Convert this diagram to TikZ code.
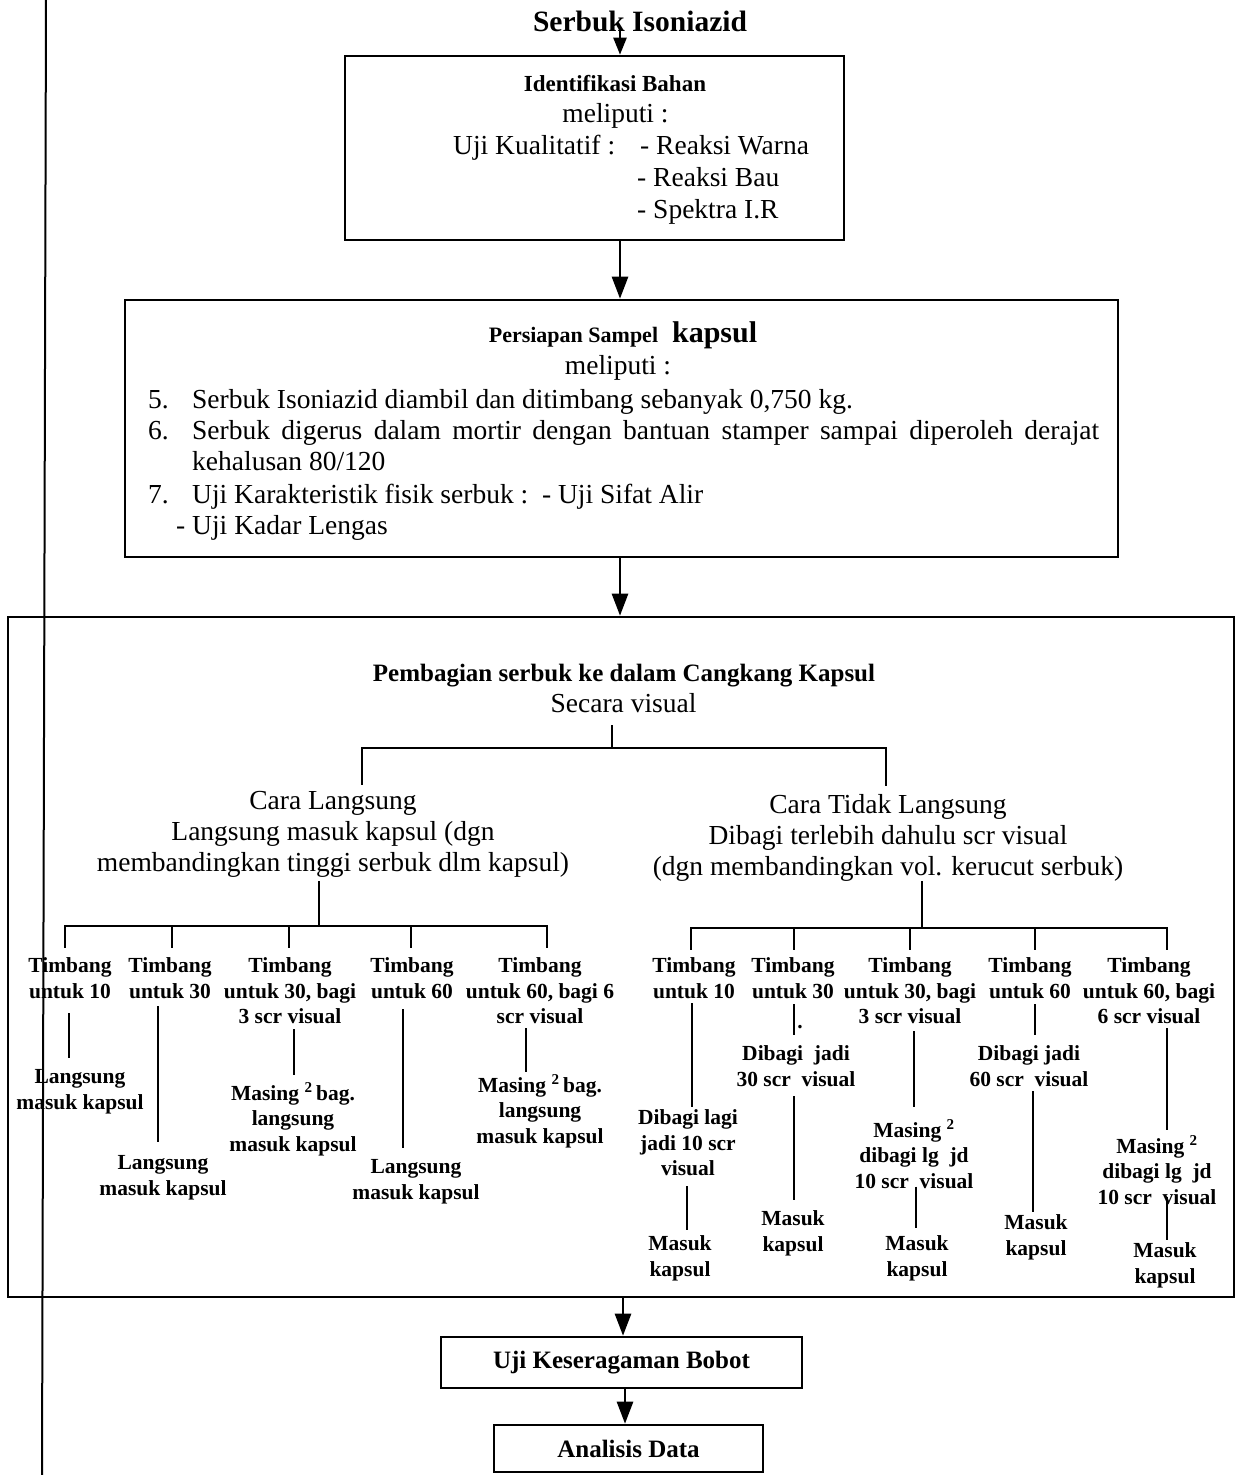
\documentclass[tikz,border=0pt]{standalone}
\usepackage{fontspec}
\setmainfont{Liberation Serif}
\usetikzlibrary{arrows.meta,calc}
\newcommand\fmain{\fontsize{27.5}{31}\selectfont}
\newcommand\fbold[1]{\fontsize{#1}{#1}\selectfont\bfseries}
\newcommand\ftree{\fontsize{21.5}{25.5}\selectfont\bfseries}
\newcommand\vl[5]{\draw[tl,shorten <=#4pt,shorten >=#5pt] ($(#1.south)+(#3,0)$) coordinate (vtmp) -- (vtmp |- #2.north);}
\begin{document}
\begin{tikzpicture}[x=1pt,y=-1pt,
  boxn/.style={draw, line width=2.6pt, inner sep=0pt},
  arr/.style={line width=2.6pt, -{Triangle[width=16pt,length=22pt]}},
  tl/.style={line width=2.2pt},
  txt/.style={inner sep=0pt, font=\fmain},
  lbl/.style={inner sep=0pt, align=center, font=\ftree, anchor=north}]
\useasboundingbox (0,0) rectangle (1240,1475);
\fill[white] (0,0) rectangle (1240,1475);

% stray left line
\draw[line width=2pt] (46,0) -- (42,1475);

% boxes
\node[boxn, minimum width=499pt, minimum height=184pt] (b1) at (594.5,148) {};
\node[boxn, minimum width=993pt, minimum height=257pt] (b2) at (621.5,428.5) {};
\node[boxn, minimum width=1226pt, minimum height=680pt] (b3) at (621,957) {};
\node[boxn, minimum width=361pt, minimum height=51pt, font=\fbold{25}] (b4) at (621.5,1362.5) {Uji Keseragaman Bobot};
\node[boxn, minimum width=269pt, minimum height=47pt, font=\fbold{25}] (b5) at (628.5,1448.5) {Analisis Data};

% title
\node[txt, font=\fbold{29.5}, anchor=base] (title) at (640,31) {Serbuk Isoniazid};

% box 1 text
\node[txt, font=\fbold{23}, anchor=base] (b1t) at (615,91) {Identifikasi Bahan};
\node[txt, anchor=base] (b1m) at (615.5,122) {meliputi :};
\node[txt, anchor=base west] (b1u) at (453,154) {Uji Kualitatif :};
\node[txt, anchor=base west] (b1r1) at (640,154) {- Reaksi Warna};
\node[txt, anchor=base west] (b1r2) at (637,186) {- Reaksi Bau};
\node[txt, anchor=base west] (b1r3) at (637,218) {- Spektra I.R};

% box 2 text
\node[txt, anchor=base] (b2t) at (623,342) {{\fbold{22}Persiapan Sampel}\hspace{14pt}{\fbold{30}kapsul}};
\node[txt, anchor=base] (b2m) at (618,374) {meliputi :};
\node[txt, anchor=base west] (n5) at (148,408) {5.};
\node[txt, anchor=base west] (i5) at (192,408) {Serbuk Isoniazid diambil dan ditimbang sebanyak 0,750 kg.};
\node[txt, anchor=base west] (n6) at (148,439) {6.};
\node[txt, anchor=base west] (i6) at (192,439) {\makebox[907pt][s]{Serbuk digerus dalam mortir dengan bantuan stamper sampai diperoleh derajat}};
\node[txt, anchor=base west] (i6b) at (192,470) {kehalusan 80/120};
\node[txt, anchor=base west] (n7) at (148,503) {7.};
\node[txt, anchor=base west] (i7) at (192,503) {Uji Karakteristik fisik serbuk :\ \ - Uji Sifat Alir};
\node[txt, anchor=base west] (i7b) at (176,534) {- Uji Kadar Lengas};

% box 3 text
\node[txt, font=\fbold{25}, anchor=base] (pemb) at (624,681) {Pembagian serbuk ke dalam Cangkang Kapsul};
\node[txt, anchor=base] (sec) at (623.5,712) {Secara visual};
\node[txt, align=center, anchor=north] (cL) at (333,791.5) {Cara Langsung\\Langsung masuk kapsul (dgn\\membandingkan tinggi serbuk dlm kapsul)};
\node[txt, align=center, anchor=north] (cR) at (888,794) {Cara Tidak Langsung\\Dibagi terlebih dahulu scr visual\\(dgn membandingkan vol. kerucut serbuk)};

% left tree labels
\node[lbl] (L1) at (70,957.5) {Timbang\\untuk 10};
\node[lbl] (L2) at (170,957.5) {Timbang\\untuk 30};
\node[lbl] (L3) at (290,957.5) {Timbang\\untuk 30, bagi\\3 scr visual};
\node[lbl] (L4) at (412,957.5) {Timbang\\untuk 60};
\node[lbl] (L5) at (540,957.5) {Timbang\\untuk 60, bagi 6\\scr visual};
\node[lbl] (L1s) at (80,1069.5) {Langsung\\masuk kapsul};
\node[lbl] (L2s) at (163,1155.5) {Langsung\\masuk kapsul};
\node[lbl] (L3s) at (293,1082.5) {Masing \textsuperscript{2}\,bag.\\langsung\\masuk kapsul};
\node[lbl] (L4s) at (416,1159.5) {Langsung\\masuk kapsul};
\node[lbl] (L5s) at (540,1074.5) {Masing \textsuperscript{2}\,bag.\\langsung\\masuk kapsul};

% right tree labels
\node[lbl] (R1) at (694,957.5) {Timbang\\untuk 10};
\node[lbl] (R2) at (793,957.5) {Timbang\\untuk 30};
\node[lbl] (R3) at (910,957.5) {Timbang\\untuk 30, bagi\\3 scr visual};
\node[lbl] (R4) at (1030,957.5) {Timbang\\untuk 60};
\node[lbl] (R5) at (1149,957.5) {Timbang\\untuk 60, bagi\\6 scr visual};
\node[lbl] (R1a) at (688,1109.5) {Dibagi lagi\\jadi 10 scr\\visual};
\node[lbl] (R1b) at (680,1235.5) {Masuk\\kapsul};
\node[lbl] (R2a) at (796,1045.5) {Dibagi\ \ jadi\\30 scr\ \ visual};
\node[lbl] (R2b) at (793,1210.5) {Masuk\\kapsul};
\node[lbl] (R3a) at (914,1119.5) {Masing \textsuperscript{2}\\dibagi lg\ \ jd\\10 scr\ \ visual};
\node[lbl] (R3b) at (917,1235.5) {Masuk\\kapsul};
\node[lbl] (R4a) at (1029,1045.5) {Dibagi jadi\\60 scr\ \ visual};
\node[lbl] (R4b) at (1036,1214.5) {Masuk\\kapsul};
\node[lbl] (R5a) at (1157,1135.5) {Masing \textsuperscript{2}\\dibagi lg\ \ jd\\10 scr\ \ visual};
\node[lbl] (R5b) at (1165,1242.5) {Masuk\\kapsul};
\node[inner sep=0pt, font=\ftree] (dot) at (800,1027) {.};

% main arrows
\coordinate (sp) at (620,0);
\coordinate (sp2) at (623,0);
\coordinate (sp3) at (625,0);
\draw[line width=2.4pt, -{Triangle[width=13pt,length=17pt]}, shorten <=-4pt] (title.south -| sp) -- (b1.north -| sp);
\draw[arr] (b1.south -| sp) -- (b2.north -| sp);
\draw[arr] (b2.south -| sp) -- (b3.north -| sp);
\draw[arr] (b3.south -| sp2) -- (b4.north -| sp2);
\draw[arr] (b4.south -| sp3) -- (b5.north -| sp3);

% upper tree
\coordinate (pj) at (612,748);
\draw[tl, shorten <=13pt] (pj |- sec.south) -- (pj);
\draw[tl, shorten >=6.5pt] (pj) -| ($(cL.north)+(29,0)$);
\draw[tl, shorten >=8.5pt] (pj) -| ($(cR.north)+(-2,0)$);

% left tree
\coordinate (lj) at (319,926);
\draw[tl, shorten <=3pt] (lj |- cL.south) -- (lj);
\draw[tl, shorten >=9.5pt] (lj) -| ($(L1.north)+(-5,0)$);
\draw[tl, shorten >=9.5pt] (lj) -| ($(L2.north)+(2,0)$);
\draw[tl, shorten >=9.5pt] (lj) -| ($(L3.north)+(-1,0)$);
\draw[tl, shorten >=9.5pt] (lj) -| ($(L4.north)+(-1,0)$);
\draw[tl, shorten >=9.5pt] (lj) -| ($(L5.north)+(7,0)$);

% right tree
\coordinate (rj) at (922,928);
\draw[tl] (rj |- cR.south) -- (rj);
\draw[tl, shorten >=7.5pt] (rj) -| ($(R1.north)+(-3,0)$);
\draw[tl, shorten >=7.5pt] (rj) -| ($(R2.north)+(1,0)$);
\draw[tl, shorten >=7.5pt] (rj) -| (R3.north);
\draw[tl, shorten >=7.5pt] (rj) -| ($(R4.north)+(5,0)$);
\draw[tl, shorten >=7.5pt] (rj) -| ($(R5.north)+(18,0)$);

% sub connectors
\vl{L1}{L1s}{-1}{14.5}{11.5}
\vl{L2}{L2s}{-12}{7.5}{13.5}
\vl{L3}{L3s}{4}{5}{7.5}
\vl{L4}{L4s}{-9}{10.5}{11.5}
\vl{L5}{L5s}{-14}{4}{2.5}
\vl{R1}{R1a}{-2}{4.5}{2.5}
\vl{R1a}{R1b}{-1}{10}{5.5}
\vl{R2}{R2a}{1}{5.5}{10.5}
\vl{R2a}{R2b}{-2}{9.5}{10.5}
\vl{R3}{R3a}{4}{7}{12.5}
\vl{R3a}{R3b}{2}{-2}{7.5}
\vl{R4}{R4a}{5}{5.5}{10.5}
\vl{R4a}{R4b}{4}{4.5}{2.5}
\vl{R5}{R5a}{18}{4}{5.5}
\vl{R5a}{R5b}{10}{-8}{2.5}
\end{tikzpicture}
\end{document}
